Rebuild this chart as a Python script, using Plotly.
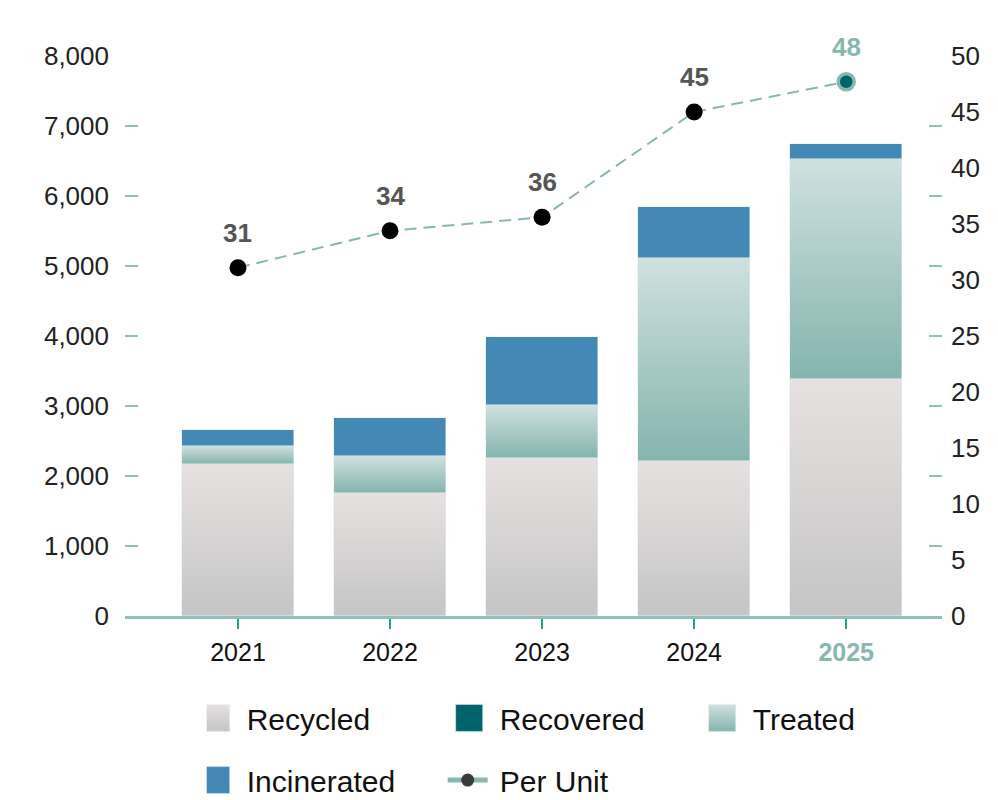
import plotly.graph_objects as go

years = ["2021", "2022", "2023", "2024", "2025"]
recycled = [2171, 1757, 2257, 2214, 3386]
recovered = [0, 0, 0, 0, 0]
treated = [258, 529, 757, 2905, 3143]
incinerated = [228, 543, 972, 724, 214]
per_unit = [31.1, 34.4, 35.6, 45.0, 47.7]
per_unit_labels = ["31", "34", "36", "45", "48"]

left_ticks = [0, 1000, 2000, 3000, 4000, 5000, 6000, 7000, 8000]
right_ticks = [0, 5, 10, 15, 20, 25, 30, 35, 40, 45, 50]

FONT = "Liberation Sans, Arial, sans-serif"
TEAL_LIGHT = "#86b8b0"
AXIS_LINE = "#8fbfb9"

fig = go.Figure()
fig.add_trace(go.Bar(x=years, y=recycled, name="Recycled", marker_color="#d8d5d5",
                     width=0.74, legend="legend"))
fig.add_trace(go.Bar(x=years, y=recovered, name="Recovered", marker_color="#00646a",
                     width=0.74, legend="legend"))
fig.add_trace(go.Bar(x=years, y=treated, name="Treated", marker_color="#a9cbc7",
                     width=0.74, legend="legend"))
fig.add_trace(go.Bar(x=years, y=incinerated, name="Incinerated", marker_color="#4489b6",
                     width=0.74, legend="legend2"))

n = len(years)
fig.add_trace(go.Scatter(
    x=years, y=per_unit, yaxis="y2", mode="lines+markers", name="Per Unit",
    showlegend=False,
    line=dict(color=TEAL_LIGHT, width=2, dash="12px,7px"),
    marker=dict(size=[17] * (n - 1) + [16],
                color=["#000000"] * (n - 1) + ["#00646a"],
                opacity=1,
                line=dict(color=["#000000"] * (n - 1) + [TEAL_LIGHT],
                          width=[0] * (n - 1) + [3.5])),
))
# legend entry for the line
fig.add_trace(go.Scatter(
    x=[None], y=[None], yaxis="y2", mode="lines+markers", name="Per Unit",
    legend="legend2",
    line=dict(color=TEAL_LIGHT, width=5),
    marker=dict(size=13, color="#3a3a3a"),
))

for i, (v, lab) in enumerate(zip(per_unit, per_unit_labels)):
    fig.add_annotation(x=i, y=v, xref="x", yref="y2", text="<b>%s</b>" % lab, showarrow=False,
                       yshift=35, font=dict(size=26, color=TEAL_LIGHT if i == n - 1 else "#555555",
                                            family=FONT))

ticktext = [y for y in years[:-1]] + ["<b><span style='color:%s'>%s</span></b>" % (TEAL_LIGHT, years[-1])]

fig.update_layout(
    width=990, height=792,
    margin=dict(l=117, r=56, t=48, b=184, autoexpand=False),
    plot_bgcolor="white", paper_bgcolor="white",
    barmode="stack", bargap=0,
    font=dict(family=FONT, size=26, color="#111111"),
    xaxis=dict(type="category", range=[-0.743, 4.63], showgrid=False,
               showline=True, linecolor=AXIS_LINE, linewidth=3,
               ticks="outside", ticklen=10, tickwidth=2, tickcolor="#2a9d93",
               ticklabelstandoff=2,
               tickvals=years, ticktext=ticktext, tickfont=dict(size=25, color="#111111")),
    yaxis=dict(range=[0, 8000], tickvals=left_ticks, tickformat=",", showgrid=False,
               zeroline=False, showline=False,
               ticks="inside", ticklen=13, tickwidth=2, tickcolor=AXIS_LINE,
               mirror="ticks", ticklabelstandoff=15,
               tickfont=dict(size=26, color="#222222")),
    yaxis2=dict(range=[0, 50], tickvals=right_ticks, overlaying="y", side="right",
                showgrid=False, zeroline=False, showline=False, ticks="",
                ticklabelstandoff=8, tickfont=dict(size=26, color="#222222")),
    legend=dict(orientation="h", x=0.1, xanchor="left", y=-0.182, yanchor="middle",
                entrywidth=208, font=dict(size=30, color="#111111"), bgcolor="rgba(0,0,0,0)",
                traceorder="normal"),
    legend2=dict(orientation="h", x=0.1, xanchor="left", y=-0.293, yanchor="middle",
                 entrywidth=208, font=dict(size=30, color="#111111"), bgcolor="rgba(0,0,0,0)",
                 traceorder="normal"),
)

post = """
var gd = document.getElementById('{plot_id}');
function styleIt() {
  try {
  var ns = 'http://www.w3.org/2000/svg';
  var svg = gd.querySelector('svg.main-svg');
  if (!document.getElementById('gRec')) {
    var defs = svg.querySelector('defs');
    if (!defs) { defs = document.createElementNS(ns, 'defs'); svg.insertBefore(defs, svg.firstChild); }
    function grad(id, top, bot) {
      var g = document.createElementNS(ns, 'linearGradient');
      g.setAttribute('id', id);
      g.setAttribute('x1', '0'); g.setAttribute('y1', '0');
      g.setAttribute('x2', '0'); g.setAttribute('y2', '1');
      [[0, top], [1, bot]].forEach(function (s) {
        var st = document.createElementNS(ns, 'stop');
        st.setAttribute('offset', s[0]); st.setAttribute('stop-color', s[1]);
        g.appendChild(st);
      });
      defs.appendChild(g);
    }
    grad('gRec', '#e6e1e1', '#c5c5c5');
    grad('gTre', '#cfe1df', '#85b4ae');
  }
  var fills = {0: 'url(#gRec)', 2: 'url(#gTre)'};
  var traces = gd.querySelectorAll('.barlayer .trace.bars');
  Object.keys(fills).forEach(function (k) {
    if (traces[k]) traces[k].querySelectorAll('path').forEach(function (p) { p.style.fill = fills[k]; });
  });
  function barSymbol(t) {
    var ps = t.querySelectorAll('.legendpoints path');
    for (var i = 0; i < ps.length; i++) {
      if (!ps[i].classList.contains('scatterpts')) return ps[i];
    }
    return null;
  }
  var legendFills = {'Recycled': 'url(#gRec)', 'Treated': 'url(#gTre)'};
  gd.querySelectorAll('g.traces').forEach(function (t) {
    var txt = t.querySelector('text.legendtext');
    var name = txt ? txt.textContent : '';
    var b = barSymbol(t);
    if (b) {
      b.setAttribute('d', 'M13.5,13.5H-13.5V-13.5H13.5Z');
      b.setAttribute('transform', 'translate(9.5,0)');
      if (legendFills[name]) b.style.fill = legendFills[name];
    }
    var ln = t.querySelector('.legendlines path');
    if (ln) ln.setAttribute('d', 'M-12,0h40');
    var pt = t.querySelector('.legendpoints path.scatterpts');
    if (pt) pt.setAttribute('transform', 'translate(8,0)');
  });
  } catch (e) { console.log(e); }
}
styleIt();
gd.on('plotly_afterplot', styleIt);
"""

fig.write_html("out.html", post_script=post)
